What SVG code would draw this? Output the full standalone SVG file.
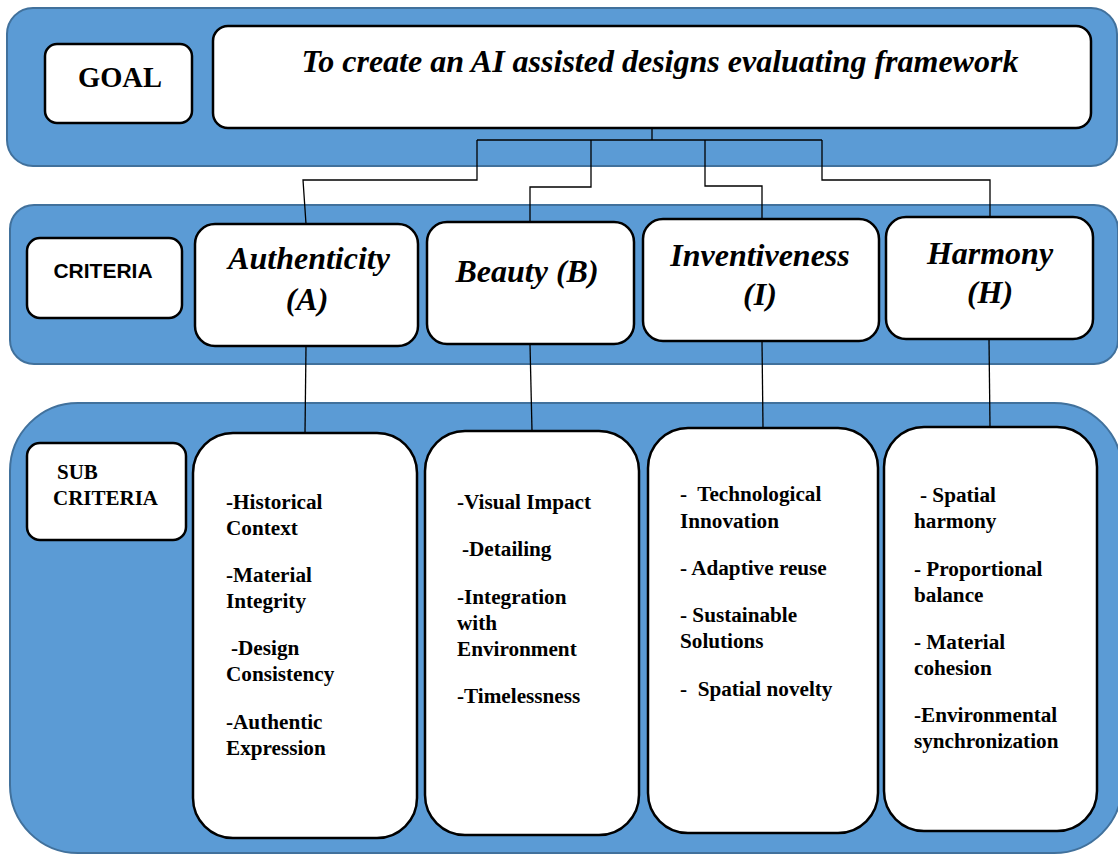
<svg xmlns="http://www.w3.org/2000/svg" width="1118" height="855" viewBox="0 0 1118 855">
<style>
.panel{fill:#5B9BD5;stroke:#41719C;stroke-width:2}
.box{fill:#fff;stroke:#000;stroke-width:2.5}
.conn{fill:none;stroke:#000;stroke-width:1.3}
.hd{font-family:"Liberation Serif","Times New Roman",serif;font-weight:bold;font-style:italic;font-size:32px;fill:#000;text-anchor:middle}
.lbl{font-family:"Liberation Serif","Times New Roman",serif;font-weight:bold;fill:#000}
.sub{font-family:"Liberation Serif","Times New Roman",serif;font-weight:bold;font-size:21.2px;fill:#000}
</style>
<rect width="1118" height="855" fill="#fff"/>
<g id="panel-goal"><rect class="panel" x="7" y="8" width="1110" height="158" rx="26"/></g>
<g id="panel-criteria"><rect class="panel" x="10" y="205" width="1108" height="159" rx="24"/></g>
<g id="panel-sub"><rect class="panel" x="10" y="403" width="1112" height="450" rx="68"/></g>

<g id="connectors">
<polyline class="conn" points="652,128 652,140"/>
<polyline class="conn" points="477,140 822,140"/>
<polyline class="conn" points="477,140 477,180 303,180 306,224"/>
<polyline class="conn" points="591,140 591,187 530,187 530,222"/>
<polyline class="conn" points="705,140 705,186 762,186 762,219"/>
<polyline class="conn" points="822,140 822,180 990,180 990,218"/>
<line class="conn" x1="306" y1="346" x2="305" y2="433"/>
<line class="conn" x1="530" y1="344" x2="532" y2="431"/>
<line class="conn" x1="762" y1="341" x2="763" y2="428"/>
<line class="conn" x1="989" y1="339" x2="990" y2="427"/>
</g>

<g id="goal-label"><rect class="box" x="45" y="44" width="147" height="79" rx="12"/>
<text class="lbl" x="120" y="87" font-size="28.5" text-anchor="middle">GOAL</text></g>
<g id="goal"><rect class="box" x="213" y="26" width="878" height="102" rx="15"/>
<text class="hd" x="660" y="72" font-size="33.3">To create an AI assisted designs evaluating framework</text></g>

<g id="criteria-label"><rect class="box" x="27" y="238" width="155" height="80" rx="13"/>
<text x="103" y="278" font-family="'Liberation Sans',Arial,sans-serif" font-weight="bold" font-size="21" text-anchor="middle">CRITERIA</text></g>
<g id="crit-a"><rect class="box" x="195" y="224" width="223" height="122" rx="20"/>
<text class="hd" x="309" y="269">Authenticity</text><text class="hd" x="307" y="310">(A)</text></g>
<g id="crit-b"><rect class="box" x="427" y="222" width="207" height="122" rx="20"/>
<text class="hd" x="527" y="282">Beauty (B)</text></g>
<g id="crit-i"><rect class="box" x="643" y="219" width="236" height="122" rx="20"/>
<text class="hd" x="760" y="266">Inventiveness</text><text class="hd" x="760" y="305">(I)</text></g>
<g id="crit-h"><rect class="box" x="886" y="217" width="207" height="122" rx="20"/>
<text class="hd" x="990" y="264">Harmony</text><text class="hd" x="990" y="303">(H)</text></g>

<g id="sub-label"><rect class="box" x="27" y="443" width="159" height="97" rx="13"/>
<text class="lbl" font-size="21" x="57" y="479">SUB</text>
<text class="lbl" font-size="21" x="53" y="505">CRITERIA</text></g>

<g id="sub-a"><rect class="box" x="193" y="433" width="224" height="405" rx="40"/>
<text class="sub" x="226" y="509">-Historical</text>
<text class="sub" x="226" y="535">Context</text>
<text class="sub" x="226" y="582">-Material</text>
<text class="sub" x="226" y="608">Integrity</text>
<text class="sub" x="231" y="655">-Design</text>
<text class="sub" x="226" y="681">Consistency</text>
<text class="sub" x="226" y="729">-Authentic</text>
<text class="sub" x="226" y="755">Expression</text></g>

<g id="sub-b"><rect class="box" x="425" y="431" width="214" height="404" rx="40"/>
<text class="sub" x="457" y="509">-Visual Impact</text>
<text class="sub" x="462" y="556">-Detailing</text>
<text class="sub" x="457" y="604">-Integration</text>
<text class="sub" x="457" y="630">with</text>
<text class="sub" x="457" y="656">Environment</text>
<text class="sub" x="457" y="703">-Timelessness</text></g>

<g id="sub-i"><rect class="box" x="648" y="428" width="230" height="405" rx="40"/>
<text class="sub" x="680" y="501" xml:space="preserve">-  Technological</text>
<text class="sub" x="680" y="528">Innovation</text>
<text class="sub" x="680" y="575">- Adaptive reuse</text>
<text class="sub" x="680" y="622">- Sustainable</text>
<text class="sub" x="680" y="648">Solutions</text>
<text class="sub" x="680" y="696" xml:space="preserve">-  Spatial novelty</text></g>

<g id="sub-h"><rect class="box" x="884" y="427" width="213" height="404" rx="40"/>
<text class="sub" x="920" y="502">- Spatial</text>
<text class="sub" x="914" y="528">harmony</text>
<text class="sub" x="914" y="576">- Proportional</text>
<text class="sub" x="914" y="602">balance</text>
<text class="sub" x="914" y="649">- Material</text>
<text class="sub" x="914" y="675">cohesion</text>
<text class="sub" x="914" y="722">-Environmental</text>
<text class="sub" x="914" y="748">synchronization</text></g>
</svg>
